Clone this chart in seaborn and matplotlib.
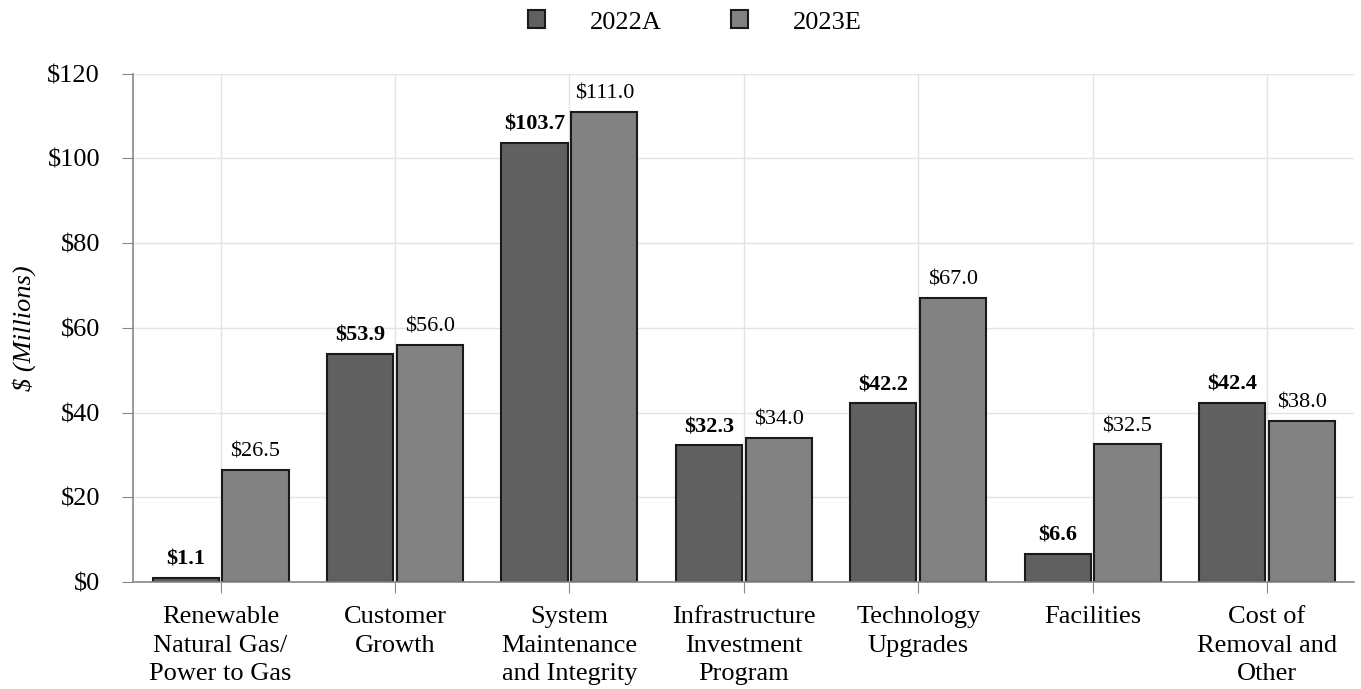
import pandas as pd
import numpy as np
import matplotlib.pyplot as plt
import seaborn as sns

# Chart data
categories = ["Renewable\nNatural Gas/\nPower to Gas", "Customer\nGrowth",
              "System\nMaintenance\nand Integrity", "Infrastructure\nInvestment\nProgram",
              "Technology\nUpgrades", "Facilities", "Cost of\nRemoval and\nOther"]
years = ["2022A", "2023E"]
values_2022 = [1.1, 53.9, 103.7, 32.3, 42.2, 6.6, 42.4]
values_2023 = [26.5, 56.0, 111.0, 34.0, 67.0, 32.5, 38.0]
colors = ["#606060", "#828282"]

df = pd.DataFrame({
    "category": categories * 2,
    "year": [years[0]] * len(categories) + [years[1]] * len(categories),
    "value": values_2022 + values_2023,
})

sns.set_style("white")
plt.rcParams['font.family'] = ['Liberation Serif', 'DejaVu Serif']
plt.rcParams['text.color'] = 'black'
plt.rcParams['axes.labelcolor'] = 'black'
plt.rcParams['xtick.labelcolor'] = 'black'
plt.rcParams['ytick.labelcolor'] = 'black'

fig, ax = plt.subplots(figsize=(13.61, 6.89), dpi=100)
sns.barplot(data=df, x="category", y="value", hue="year", palette=colors,
            width=0.8, gap=0.05, edgecolor="#1a1a1a", linewidth=1.5, ax=ax)

# value labels
for i, cont in enumerate(ax.containers):
    labels = ["$%.1f" % v for v in cont.datavalues]
    ax.bar_label(cont, labels=labels, padding=6, fontsize=16,
                 fontweight="bold" if i == 0 else "normal")

ax.set_ylim(0, 120)
ax.set_xlim(-0.5, 6.5)
ax.set_yticks(np.arange(0, 121, 20))
ax.set_yticklabels(["$%d" % t for t in np.arange(0, 121, 20)], fontsize=19)
for lbl in ax.get_xticklabels():
    lbl.set_linespacing(1.4)
ax.tick_params(axis="x", labelsize=19, length=8, color="#888888", pad=9)
ax.tick_params(axis="y", length=8, color="#888888", left=True, pad=16)
ax.tick_params(axis="x", bottom=True)
ax.set_xlabel("")
ax.set_ylabel("$ (Millions)", fontsize=19, fontstyle="italic")
ax.yaxis.set_label_coords(-0.080, 0.5)

ax.grid(True, color="#e3e3e3", linewidth=1)
ax.set_axisbelow(True)
for s in ["top", "right"]:
    ax.spines[s].set_visible(False)
for s in ["left", "bottom"]:
    ax.spines[s].set_color("#888888")
    ax.spines[s].set_linewidth(1.2)

handles, lbls = ax.get_legend_handles_labels()
ax.get_legend().remove()
fig.legend(handles, lbls, loc="center", bbox_to_anchor=(695 / 1361, 1 - 22 / 689),
           ncol=2, frameon=False, fontsize=19, handlelength=0.65, handleheight=0.65,
           columnspacing=2.6, handletextpad=1.7)

plt.subplots_adjust(left=0.098, right=0.995, top=0.893, bottom=0.155)
plt.savefig("out.png", dpi=100)
